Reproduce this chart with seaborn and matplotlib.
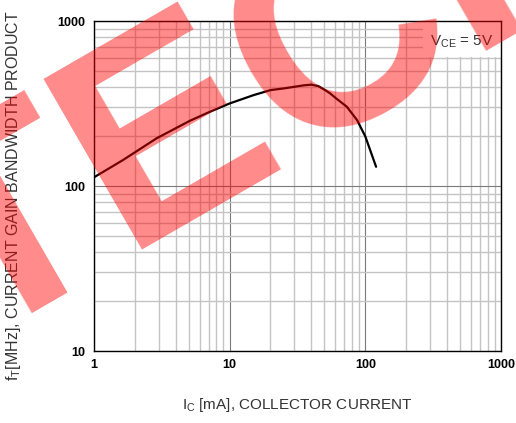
import numpy as np
import pandas as pd
import seaborn as sns
import matplotlib.pyplot as plt
from matplotlib.patches import Rectangle
from matplotlib.ticker import LogLocator, NullFormatter, FixedLocator

# values (Ic in mA, fT in MHz)
ic_ma = [1, 1.64, 2.9, 5.1, 7, 10, 15, 20, 25, 30, 35, 40, 45, 50, 55, 61, 73, 87, 100, 120]
ft_mhz = [113, 144, 195, 249, 280, 317, 356, 382, 391, 400, 408, 412, 404, 384, 365, 340, 303, 251, 200, 131]

x_ticks = [1, 10, 100, 1000]
y_ticks = [10, 100, 1000]
x_tick_labels = ["1", "10", "100", "1000"]
y_tick_labels = ["10", "100", "1000"]

df = pd.DataFrame({"ic": ic_ma, "ft": ft_mhz})

sns.set_style("white")
plt.rcParams['font.family'] = ['Liberation Sans', 'DejaVu Sans']

fig = plt.figure(figsize=(5.16, 4.23), dpi=100)
ax = fig.add_axes([0.182, 0.170, 0.789, 0.780])

sns.lineplot(data=df, x="ic", y="ft", ax=ax, color="black", linewidth=1.6, zorder=5)

ax.set_xscale("log")
ax.set_yscale("log")
ax.set_xlim(1, 1000)
ax.set_ylim(10, 1000)

ax.xaxis.set_major_locator(FixedLocator(x_ticks))
ax.yaxis.set_major_locator(FixedLocator(y_ticks))
ax.set_xticklabels(x_tick_labels, fontweight="bold", fontsize=9)
ax.set_yticklabels(y_tick_labels, fontweight="bold", fontsize=9)
ax.xaxis.set_minor_locator(LogLocator(base=10, subs=np.arange(2, 10)))
ax.yaxis.set_minor_locator(LogLocator(base=10, subs=np.arange(2, 10)))
ax.xaxis.set_minor_formatter(NullFormatter())
ax.yaxis.set_minor_formatter(NullFormatter())

ax.tick_params(which="both", direction="in", colors="black", width=0.8)
ax.tick_params(which="major", length=5, pad=6)
ax.tick_params(which="minor", length=4)

ax.grid(True, which="major", color="#7a7a7a", linewidth=0.8)
ax.grid(True, which="minor", color="#c4c4c4", linewidth=1.0)
ax.set_axisbelow(True)

for s in ax.spines.values():
    s.set_color("black")
    s.set_linewidth(1.0)

# white box behind the condition label
ax.add_patch(Rectangle((0.808, 0.891), 0.192, 0.109, transform=ax.transAxes,
                       facecolor="white", edgecolor="none", zorder=2))
ax.text(0.825, 0.938, r"V$\mathregular{_{CE}}$ = 5V", transform=ax.transAxes,
        fontsize=11, color="#333333", va="center", ha="left", zorder=3)

ax.set_xlabel(r"I$\mathregular{_C}$ [mA], COLLECTOR CURRENT", fontsize=11,
              color="#333333", labelpad=18)
ax.set_ylabel(r"f$\mathregular{_T}$[MHz], CURRENT GAIN BANDWIDTH PRODUCT",
              fontsize=11.5, color="#333333")
ax.yaxis.set_label_coords(-0.174, 0.47)

# watermark
fig.text(-0.05, 0.18, "TECH PUBLIC", fontsize=206, fontweight="bold",
         color="red", alpha=0.46, rotation=30, rotation_mode="anchor",
         ha="left", va="baseline", zorder=10)

fig.savefig("out.png", dpi=100)
